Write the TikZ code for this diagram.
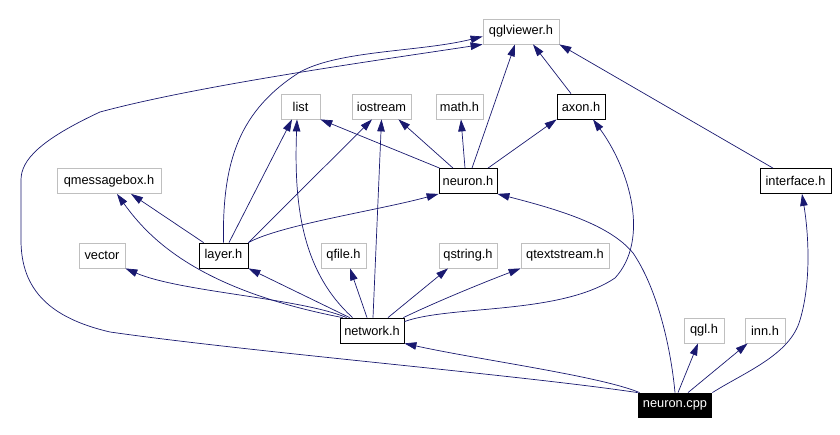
\documentclass[tikz,border=0pt]{standalone}
\usepackage{fontspec}
\setmainfont{Liberation Sans}
\usetikzlibrary{arrows.meta}
\definecolor{edge-blue}{HTML}{191970}
\definecolor{sys-gray}{HTML}{BFBFBF}

\begin{document}
\begin{tikzpicture}[x=1pt, y=-1pt,
    every node/.style={font=\fontsize{12.8}{15}\selectfont, minimum height=25pt,
                       inner sep=0pt, line width=0.8pt},
    sysinc/.style={draw=sys-gray},
    localinc/.style={draw=black},
    srcfile/.style={fill=black, text=white},
    incl/.style={draw=edge-blue, line width=0.7pt,
                 -{Triangle[length=12pt, width=7.5pt]}}]
  \fill[white] (0,0) rectangle (840,435);
  \useasboundingbox (0,0) rectangle (840,435);

  % ── headers ──
  \node[sysinc, minimum width=76pt] (qglviewer) at (521,31.5) {qglviewer.h};
  \node[sysinc, minimum width=39pt] (list) at (300.5,106.5) {list};
  \node[sysinc, minimum width=59pt] (iostream) at (381.5,106.5) {iostream};
  \node[sysinc, minimum width=47pt] (math) at (459.5,106.5) {math.h};
  \node[localinc, minimum width=48pt] (axon) at (581,106.5) {axon.h};
  \node[sysinc, minimum width=104pt] (qmsgbox) at (109,181) {qmessagebox.h};
  \node[localinc, minimum width=58pt] (neuronh) at (468,181) {neuron.h};
  \node[localinc, minimum width=71pt] (interface) at (795.5,181) {interface.h};
  \node[sysinc, minimum width=46pt] (vector) at (102,255.5) {vector};
  \node[localinc, minimum width=49pt] (layer) at (223.5,255.5) {layer.h};
  \node[sysinc, minimum width=45pt] (qfile) at (343.5,255.5) {qfile.h};
  \node[sysinc, minimum width=58pt] (qstring) at (468,255.5) {qstring.h};
  \node[sysinc, minimum width=88pt] (qtextstream) at (565,255.5) {qtextstream.h};
  \node[localinc, minimum width=64pt] (network) at (372,330.5) {network.h};
  \node[sysinc, minimum width=40pt] (qglh) at (704,330.5) {qgl.h};
  \node[sysinc, minimum width=40pt] (inn) at (765,330.5) {inn.h};
  % source file at the bottom
  \node[srcfile, minimum width=74pt] (cpp) at (675,405.5) {neuron.cpp};

  % ── neuron.cpp includes ──
  \draw[incl] (cpp.north) .. controls (670,340) and (655,285) .. (633,253)
              .. controls (610,225) and (560,210) .. (neuronh.south east);
  \draw[incl] ([xshift=2pt]cpp.north west) .. controls (600,376) and (480,360)
              .. (network.south east);
  \draw[incl] (cpp.north west) .. controls (520,375) and (250,352) .. (110,332)
              .. controls (50,318) and (21,290) .. (21,240) -- (21,180)
              .. controls (21,160) and (40,140) .. (100,112)
              .. controls (200,85) and (380,60) .. (qglviewer.south west);
  \draw[incl] ([xshift=3pt]cpp.north) -- ([xshift=-6pt]qglh.south);
  \draw[incl] ([xshift=13pt]cpp.north) -- ([xshift=3pt]inn.south west);
  \draw[incl] (cpp.north east) .. controls (745,372) and (790,355) .. (800,320)
              .. controls (812,280) and (808,230) .. ([xshift=6.5pt]interface.south);

  % ── neuron.h / axon.h / interface.h ──
  \draw[incl] ([xshift=1pt]neuronh.north west) -- (list.south east);
  \draw[incl] ([xshift=-15pt]neuronh.north) -- ([xshift=-13pt]iostream.south east);
  \draw[incl] ([xshift=-3pt]neuronh.north) -- ([xshift=1.5pt]math.south);
  \draw[incl] ([xshift=4pt]neuronh.north) -- ([xshift=-6pt]qglviewer.south);
  \draw[incl] ([xshift=20pt]neuronh.north) -- (axon.south west);
  \draw[incl] ([xshift=-10pt]axon.north) -- ([xshift=12pt]qglviewer.south);
  \draw[incl] ([xshift=-22.5pt]interface.north) -- (qglviewer.south east);

  % ── layer.h ──
  \draw[incl] (layer.north) .. controls (222,160) and (240,110) .. (300,72)
              .. controls (340,50) and (420,52) .. ([yshift=-5pt]qglviewer.west);
  \draw[incl] ([xshift=5pt]layer.north west) -- ([xshift=22pt]qmsgbox.south);
  \draw[incl] ([xshift=5.5pt]layer.north) -- ([xshift=-8.5pt]list.south);
  \draw[incl] (layer.north east) -- ([xshift=-9.5pt]iostream.south);
  \draw[incl] (layer.north east) .. controls (280,225) and (380,210) .. (neuronh.south west);

  % ── network.h ──
  \draw[incl] ([xshift=10pt]network.north west) -- (layer.south east);
  \draw[incl] ([xshift=7pt]network.north west) .. controls (300,298) and (180,292)
              .. (vector.south east);
  \draw[incl] ([xshift=3pt]network.north west) .. controls (200,290) and (150,240)
              .. ([xshift=8pt]qmsgbox.south);
  \draw[incl] ([xshift=13pt]network.north west) .. controls (300,270) and (294,200)
              .. ([xshift=-3.5pt]list.south);
  \draw[incl] ([xshift=1pt]network.north) -- (iostream.south);
  \draw[incl] ([xshift=-5pt]network.north) -- ([xshift=6.5pt]qfile.south);
  \draw[incl] ([xshift=16pt]network.north) -- ([xshift=-20pt]qstring.south);
  \draw[incl] ([xshift=-1pt]network.north east) .. controls (440,300) and (490,280)
              .. (qtextstream.south west);
  \draw[incl] ([yshift=-4pt]network.north east) .. controls (450,305) and (560,315) .. (615,278)
              .. controls (650,240) and (630,170) .. ([xshift=12pt]axon.south);
\end{tikzpicture}
\end{document}
